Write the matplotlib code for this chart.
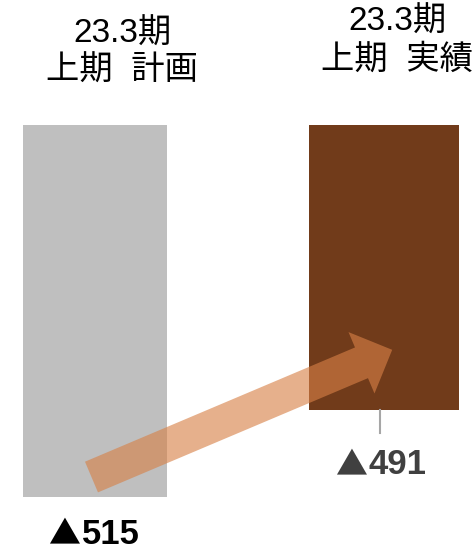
import numpy as np
import matplotlib
matplotlib.use("Agg")
import matplotlib.pyplot as plt

plt.rcParams['font.family'] = ['Liberation Sans', 'Noto Sans CJK JP', 'DejaVu Sans']

# data
categories = ['23.3期\n上期  計画', '23.3期\n上期  実績']
values = [515, 491]
value_labels = ['▲515', '▲491']
bar_colors = ['#BFBFBF', '#713B1A']
label_colors = ['#000000', '#404040']
axis_start = 412.5   # broken axis: bars hang from here

fig = plt.figure(figsize=(4.73, 5.47), dpi=100)
ax = fig.add_axes([0, 0, 1, 1])
ax.set_xlim(-0.329, 1.310)
ax.set_ylim(528.8, 377.9)
ax.axis('off')

x = np.arange(len(values))
heights = [v - axis_start for v in values]
ax.bar(x, heights, bottom=axis_start, width=[0.5, 0.52], color=bar_colors, zorder=1)

# headers
ax.text(x[0] + 0.095, 392.4, categories[0], ha='center', va='center',
        fontsize=24, linespacing=1.25)
ax.text(x[1] + 0.048, 389.3, categories[1], ha='center', va='center',
        fontsize=24, linespacing=1.25)

# leader line for the actual value
ax.plot([x[1] - 0.012, x[1] - 0.012], [values[1], values[1] + 6.3],
        color='#A6A6A6', lw=1.5, zorder=1)

# value labels: big triangle from the CJK font, digits in Arial-like bold
label_pos = [(x[0] - 0.05, 527.9), (x[1] - 0.057, 508.7)]
for (lx, ly), lab, col in zip(label_pos, value_labels, label_colors):
    ax.text(lx, ly, lab[0], ha='right', va='baseline', fontsize=23,
            color=col, family=['Noto Sans CJK JP'])
    ax.text(lx + 0.004, ly, lab[1:], ha='left', va='baseline', fontsize=25,
            fontweight='bold', color=col)

# trend arrow from plan to actual
ax.annotate('', xy=(1.03, 474.4), xytext=(-0.012, 509.5),
            arrowprops=dict(arrowstyle='simple,head_length=1.0,head_width=2.0,tail_width=1.0',
                            mutation_scale=24, color='#D78046', alpha=0.62,
                            lw=0, shrinkA=0, shrinkB=0),
            zorder=3)

fig.savefig('out.png', dpi=100)
